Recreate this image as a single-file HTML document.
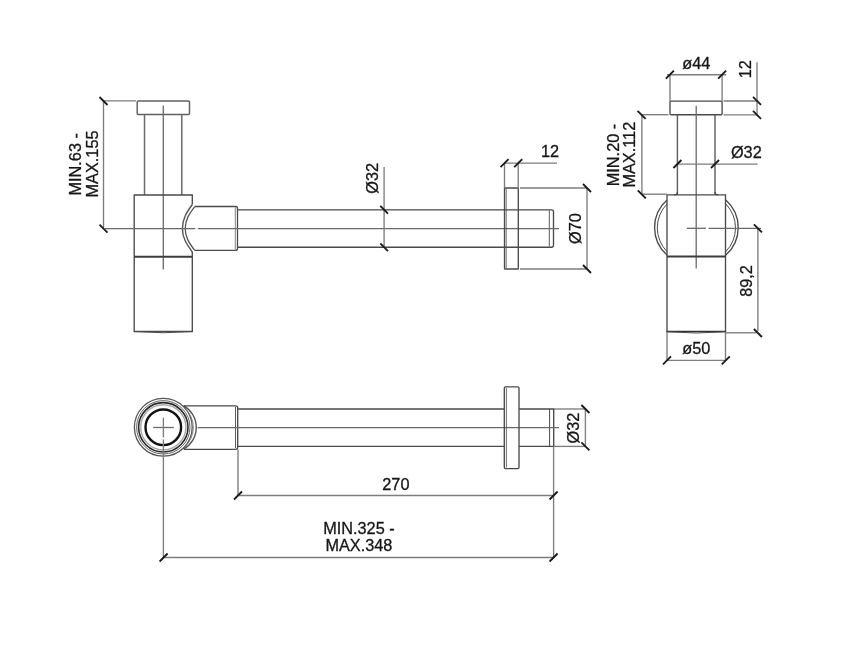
<!DOCTYPE html>
<html><head><meta charset="utf-8">
<style>
html,body{margin:0;padding:0;background:#fff;width:842px;height:645px;overflow:hidden}
svg{display:block;will-change:transform}
text{font-family:"Liberation Sans",sans-serif;font-size:16.3px;fill:#161616;stroke:#161616;stroke-width:0.3}
.o{stroke:#4a4a4a;stroke-width:1.35;fill:none}
.d{stroke:#7d7d7d;stroke-width:1.35;fill:none}
.t{stroke:#1a1a1a;stroke-width:1.85;fill:none}
.c{stroke:#6a6a6a;stroke-width:1.3;fill:none}
</style></head><body>
<svg width="842" height="645" viewBox="0 0 842 645">
<!-- ===== FRONT VIEW ===== -->
<!-- cap -->
<rect class="o" x="137.2" y="101" width="52.3" height="13.5" rx="1" style="stroke:#606060;stroke-width:1.45"/>
<!-- tube -->
<line class="o" x1="144.5" y1="114.5" x2="144.5" y2="195" style="stroke:#6a6a6a;stroke-width:1.5"/>
<line class="o" x1="181.8" y1="114.5" x2="181.8" y2="195" style="stroke:#6a6a6a;stroke-width:1.5"/>
<!-- vertical centerline -->
<line class="c" x1="163.3" y1="105.5" x2="163.3" y2="269.5"/>
<!-- body -->
<path class="o" d="M192.3 204.5 V195 H134.2 V331.5 H192.3 V252"/>
<line class="o" x1="134.2" y1="256.8" x2="192.3" y2="256.8" style="stroke-width:2;stroke:#3c3c3c"/>
<path class="o" d="M134.7 331.5 Q163.3 334 191.8 331.5" style="stroke-width:1"/>
<!-- elbow arcs -->
<path class="o" d="M192.3 204.5 C186.5 212.5 182.4 219 182.4 228.5 C182.4 238 186.5 244 192.3 252" style="stroke:#555;stroke-width:1.4"/>
<path class="o" d="M194.8 206.6 C189 214 185.2 220 185.2 228.5 C185.2 237 189 243 194.8 250.4" style="stroke:#555;stroke-width:1.3"/>
<!-- elbow pipe -->
<path class="o" d="M194.8 206.5 H235.5 Q237.5 206.5 237.5 208.5 V248.4 Q237.5 250.4 235.5 250.4 H194.8" style="stroke-width:1.3"/>
<line class="o" x1="235.3" y1="207.5" x2="235.3" y2="249.5" style="stroke-width:0.9;stroke:#777"/>
<!-- main pipe -->
<path class="o" d="M237 209.9 H551.5 Q553.5 209.9 553.5 212 V245 Q553.5 247.2 551.5 247.2 H237"/>
<line class="o" x1="549.3" y1="210.5" x2="549.3" y2="246.5" style="stroke-width:0.9"/>
<!-- horizontal centerline -->
<line class="c" x1="105" y1="228.6" x2="195.4" y2="228.6"/><line class="c" x1="197.9" y1="228.6" x2="559" y2="228.6"/>
<!-- flange -->
<rect class="o" x="504.5" y="188" width="13.8" height="81" rx="0.6"/>
<line class="o" x1="506.2" y1="189" x2="506.2" y2="268" style="stroke-width:0.8"/>

<!-- dims: MIN.63 - MAX.155 -->
<line class="d" x1="103.5" y1="100.8" x2="136" y2="100.8"/>
<line class="d" x1="103.5" y1="100.8" x2="103.5" y2="228.6"/>
<line class="t" x1="99.5" y1="97" x2="107.5" y2="105"/>
<line class="t" x1="99.5" y1="224.6" x2="107.5" y2="232.6"/>
<text transform="translate(80.5,164.3) rotate(-90)" text-anchor="middle">MIN.63 -</text>
<text transform="translate(97.8,164) rotate(-90)" text-anchor="middle">MAX.155</text>

<!-- dims: Ø32 front -->
<line class="d" x1="384.1" y1="167" x2="384.1" y2="248"/>
<line class="t" x1="380.3" y1="205.8" x2="388" y2="213.6"/>
<line class="t" x1="380.3" y1="243.3" x2="388" y2="251.1"/>
<text transform="translate(378.2,178.3) rotate(-90)" text-anchor="middle">Ø32</text>

<!-- dims: 12 front -->
<line class="d" x1="504.5" y1="163.1" x2="504.5" y2="188"/>
<line class="d" x1="518.2" y1="163.1" x2="518.2" y2="188"/>
<line class="d" x1="504.5" y1="163.1" x2="557" y2="163.1"/>
<line class="t" x1="500.5" y1="167.1" x2="508.5" y2="159.1"/>
<line class="t" x1="514.2" y1="167.1" x2="522.2" y2="159.1"/>
<text x="550" y="157.3" text-anchor="middle">12</text>

<!-- dims: Ø70 -->
<line class="d" x1="520" y1="188" x2="587" y2="188"/>
<line class="d" x1="520" y1="269" x2="587" y2="269"/>
<line class="d" x1="587" y1="188" x2="587" y2="269"/>
<line class="t" x1="583" y1="184" x2="591" y2="192"/>
<line class="t" x1="583" y1="265" x2="591" y2="273"/>
<text transform="translate(581,228.5) rotate(-90)" text-anchor="middle">Ø70</text>

<!-- ===== SIDE VIEW ===== -->
<rect class="o" x="670" y="101.1" width="52.1" height="13.6" rx="1"/>
<line class="o" x1="677.4" y1="114.7" x2="677.4" y2="195" style="stroke:#606060;stroke-width:1.45"/>
<line class="o" x1="715" y1="114.7" x2="715" y2="195" style="stroke:#606060;stroke-width:1.45"/>
<line class="c" x1="696.2" y1="105.8" x2="696.2" y2="268.4"/>
<path class="o" d="M677.4 192 Q677.4 195 674 195 M715 192 Q715 195 718.4 195" style="stroke-width:1.2"/>
<path class="o" d="M667 331.6 V194.9 H725.5 V331.6"/>
<line x1="666.3" y1="331.6" x2="726.2" y2="331.6" style="stroke:#333;stroke-width:1.5"/>
<line class="o" x1="667" y1="256.6" x2="725.8" y2="256.6" style="stroke-width:2;stroke:#3c3c3c"/>
<!-- bulges -->
<path class="o" d="M667 199.9 A36.9 36.9 0 0 0 667 255.1"/>
<path class="o" d="M667 204 A34 34 0 0 0 667 251.6" style="stroke-width:1"/>
<path class="o" d="M725.8 199.9 A36.9 36.9 0 0 1 725.8 255.1"/>
<path class="o" d="M725.8 204 A34 34 0 0 1 725.8 251.6" style="stroke-width:1"/>
<path class="o" d="M667.5 331.8 Q696.4 334.2 725.3 331.8" style="stroke-width:1"/>
<line class="c" x1="686.8" y1="228.3" x2="705.9" y2="228.3"/><line class="c" x1="708.5" y1="228.3" x2="761" y2="228.3"/>

<!-- dims ø44 -->
<line class="d" x1="670" y1="74.7" x2="670" y2="101.1"/>
<line class="d" x1="722.1" y1="74.7" x2="722.1" y2="101.1"/>
<line class="d" x1="667" y1="74.7" x2="726" y2="74.7"/>
<line class="t" x1="665.9" y1="78.7" x2="673.9" y2="70.7"/>
<line class="t" x1="718.1" y1="78.7" x2="726.1" y2="70.7"/>
<text x="696.3" y="68.5" text-anchor="middle">ø44</text>

<!-- dims 12 side -->
<line class="d" x1="723.5" y1="101" x2="757" y2="101"/>
<line class="d" x1="723.5" y1="114.8" x2="757" y2="114.8"/>
<line class="d" x1="757" y1="62.3" x2="757" y2="114.8"/>
<line class="t" x1="753" y1="96.8" x2="761" y2="104.8"/>
<line class="t" x1="753" y1="110.8" x2="761" y2="118.8"/>
<text transform="translate(751,69.3) rotate(-90)" text-anchor="middle">12</text>

<!-- dims MIN.20 -->
<line class="d" x1="642" y1="114.7" x2="668.5" y2="114.7"/>
<line class="d" x1="642" y1="194.2" x2="667" y2="194.2"/>
<line class="d" x1="641.9" y1="114.7" x2="641.9" y2="194.2"/>
<line class="t" x1="637.6" y1="110.9" x2="645.6" y2="118.9"/>
<line class="t" x1="637.8" y1="190.3" x2="645.8" y2="198.3"/>
<text transform="translate(618.5,155) rotate(-90)" text-anchor="middle">MIN.20 -</text>
<text transform="translate(635.1,154.7) rotate(-90)" text-anchor="middle">MAX.112</text>

<!-- dims Ø32 side -->
<line class="d" x1="677.4" y1="164.1" x2="757.6" y2="164.1"/>
<line class="t" x1="673.4" y1="168" x2="681.4" y2="160"/>
<line class="t" x1="711" y1="168" x2="719" y2="160"/>
<text x="746.3" y="157.9" text-anchor="middle">Ø32</text>

<!-- dims 89,2 -->
<line class="d" x1="726" y1="332.8" x2="756.5" y2="332.8"/>
<line class="d" x1="757.9" y1="228.3" x2="757.9" y2="331"/>
<line class="t" x1="753.9" y1="224.3" x2="761.9" y2="232.3"/>
<line class="t" x1="753.9" y1="329" x2="761.9" y2="337"/>
<text transform="translate(751.8,281) rotate(-90)" text-anchor="middle">89,2</text>

<!-- dims ø50 -->
<line class="d" x1="667" y1="331.8" x2="667" y2="360.4"/>
<line class="d" x1="725.5" y1="331.8" x2="725.5" y2="360.4"/>
<line class="d" x1="667" y1="360.3" x2="725.5" y2="360.3"/>
<line class="t" x1="663" y1="364.4" x2="671" y2="356.4"/>
<line class="t" x1="721.8" y1="364.4" x2="729.8" y2="356.4"/>
<text x="696.4" y="353.9" text-anchor="middle">ø50</text>

<!-- ===== TOP VIEW ===== -->
<circle class="o" cx="163.3" cy="427.3" r="28.9" style="stroke-width:1.3;stroke:#555"/>
<circle class="o" cx="163.3" cy="427.3" r="26.7" style="stroke-width:1;stroke:#666"/>
<circle cx="163.3" cy="427.3" r="24.7" style="stroke:#2a2a2a;stroke-width:1.6;fill:none"/>
<circle cx="163.3" cy="427.3" r="22.6" style="stroke:#aaa;stroke-width:1.5;fill:none"/>
<circle cx="163.3" cy="427.3" r="17.8" style="stroke:#111;stroke-width:2.4;fill:none"/>
<path class="o" d="M183.4 405.6 A24.9 24.9 0 0 1 183.4 449.2" style="stroke:#555;stroke-width:1.4"/>
<path class="o" d="M184.5 408 A26 26 0 0 1 184.5 447" style="stroke-width:0.9;stroke:#777"/>
<path class="o" d="M184 405.8 H235.7 Q237.7 405.8 237.7 407.8 V447.3 Q237.7 449.3 235.7 449.3 H184"/>
<line class="o" x1="235.5" y1="407" x2="235.5" y2="448" style="stroke-width:0.9"/>
<path class="o" d="M237.7 409 H504.3 M519 409 H553.7 V446.4 H519 M504.3 446.4 H237.7"/>
<line class="o" x1="549.6" y1="409" x2="549.6" y2="446.4" style="stroke-width:1"/>
<line class="c" x1="153.2" y1="427.5" x2="173.8" y2="427.5"/>
<line class="c" x1="197.6" y1="427.6" x2="559" y2="427.6"/>
<rect class="o" x="504.3" y="386.8" width="14.7" height="81.8" rx="1.3"/>
<line class="o" x1="506.4" y1="388" x2="506.4" y2="467.5" style="stroke-width:0.8"/>

<!-- Ø32 top -->
<line class="d" x1="554" y1="409" x2="585.4" y2="409"/>
<line class="d" x1="554" y1="446.4" x2="585.4" y2="446.4"/>
<line class="d" x1="585.4" y1="409" x2="585.4" y2="446.4"/>
<line class="t" x1="581.4" y1="405" x2="589.4" y2="413"/>
<line class="t" x1="581.4" y1="442.4" x2="589.4" y2="450.4"/>
<text transform="translate(579.2,428) rotate(-90)" text-anchor="middle">Ø32</text>

<!-- 270 / MIN.325 -->
<line class="d" x1="163.4" y1="417.7" x2="163.4" y2="437.4"/><line class="d" x1="163.4" y1="439.4" x2="163.4" y2="557.5"/>
<line class="d" x1="238" y1="449.3" x2="238" y2="495.5"/>
<line class="d" x1="553.6" y1="446.4" x2="553.6" y2="557.5"/>
<line class="d" x1="238" y1="495.5" x2="553.6" y2="495.5"/>
<line class="d" x1="163.6" y1="557.5" x2="553.6" y2="557.5"/>
<line class="t" x1="234" y1="499.5" x2="242" y2="491.5"/>
<line class="t" x1="549.6" y1="499.5" x2="557.6" y2="491.5"/>
<line class="t" x1="159.6" y1="561.5" x2="167.6" y2="553.5"/>
<line class="t" x1="549.6" y1="561.5" x2="557.6" y2="553.5"/>
<text x="395.9" y="489.6" text-anchor="middle">270</text>
<text x="358.9" y="534" text-anchor="middle">MIN.325 -</text>
<text x="358.9" y="551" text-anchor="middle">MAX.348</text>
</svg>
</body></html>
